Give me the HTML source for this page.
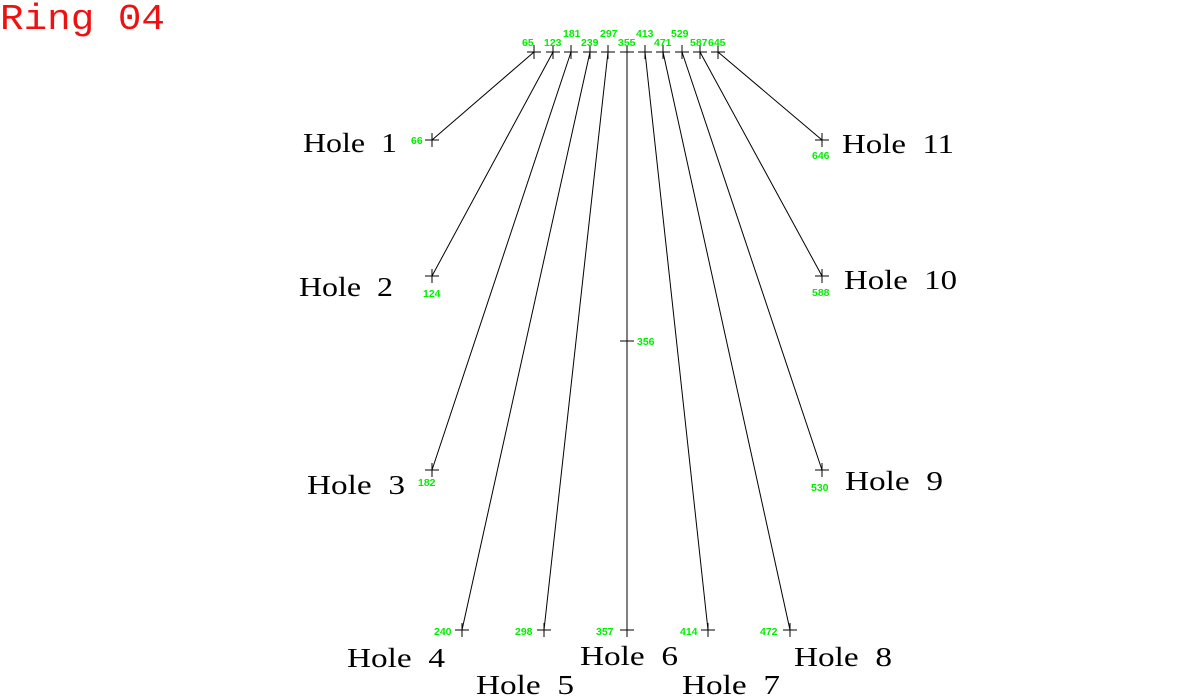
<!DOCTYPE html>
<html><head><style>
html,body{margin:0;padding:0;background:#fff;width:1197px;height:700px;overflow:hidden}
svg{display:block}
.h{font-family:"Liberation Serif",serif;font-size:27px;fill:#000}
.g{font-family:"Liberation Sans",sans-serif;font-size:10.5px;font-weight:bold;fill:#00ee00}
</style></head><body>
<svg width="1197" height="700" viewBox="0 0 1197 700">
<text x="0" y="29" font-family="Liberation Mono, monospace" font-size="36" fill="#ee1111" textLength="165" lengthAdjust="spacingAndGlyphs">Ring 04</text>
<g stroke="#000" stroke-width="1" fill="none">
<line x1="534" y1="52" x2="432" y2="140"/>
<line x1="553" y1="52" x2="432" y2="276"/>
<line x1="571" y1="52" x2="432" y2="470"/>
<line x1="590" y1="52" x2="462" y2="630"/>
<line x1="608" y1="52" x2="544" y2="630"/>
<line x1="627" y1="52" x2="627" y2="630"/>
<line x1="645" y1="52" x2="708" y2="630"/>
<line x1="663" y1="52" x2="790" y2="630"/>
<line x1="682" y1="52" x2="822" y2="470"/>
<line x1="700" y1="52" x2="822" y2="276"/>
<line x1="718" y1="52" x2="822" y2="140"/>
<path d="M527 52h14M534 45v14 M546 52h14M553 45v14 M564 52h14M571 45v14 M583 52h14M590 45v14 M601 52h14M608 45v14 M620 52h14M627 45v14 M638 52h14M645 45v14 M656 52h14M663 45v14 M675 52h14M682 45v14 M693 52h14M700 45v14 M711 52h14M718 45v14"/>
<path d="M425 140h14M432 133v14 M425 276h14M432 269v14 M425 470h14M432 463v14 M455 630h14M462 623v14 M537 630h14M544 623v14 M620 630h14M627 623v14 M701 630h14M708 623v14 M783 630h14M790 623v14 M815 470h14M822 463v14 M815 276h14M822 269v14 M815 140h14M822 133v14 M620 341h14M627 334v14"/>
</g>
<g class="g">
<text x="522" y="46">65</text><text x="544" y="46">123</text><text x="563" y="37">181</text><text x="581" y="46">239</text>
<text x="600" y="37">297</text><text x="618" y="46">355</text><text x="636" y="37">413</text><text x="654" y="46">471</text>
<text x="671" y="37">529</text><text x="690" y="46">587</text><text x="708" y="46">645</text>
<text x="411" y="144">66</text><text x="423" y="297">124</text><text x="418" y="486">182</text>
<text x="434" y="635">240</text><text x="515" y="635">298</text><text x="596" y="635">357</text>
<text x="680" y="635">414</text><text x="760" y="635">472</text><text x="811" y="491">530</text>
<text x="812" y="296">588</text><text x="812" y="159">646</text><text x="637" y="345">356</text>
</g>
<g class="h">
<text x="303" y="152" textLength="94" lengthAdjust="spacingAndGlyphs" xml:space="preserve">Hole  1</text>
<text x="299" y="296" textLength="94" lengthAdjust="spacingAndGlyphs" xml:space="preserve">Hole  2</text>
<text x="307" y="494" textLength="98" lengthAdjust="spacingAndGlyphs" xml:space="preserve">Hole  3</text>
<text x="347" y="667" textLength="98" lengthAdjust="spacingAndGlyphs" xml:space="preserve">Hole  4</text>
<text x="476" y="694" textLength="98" lengthAdjust="spacingAndGlyphs" xml:space="preserve">Hole  5</text>
<text x="580" y="665" textLength="98" lengthAdjust="spacingAndGlyphs" xml:space="preserve">Hole  6</text>
<text x="682" y="694" textLength="98" lengthAdjust="spacingAndGlyphs" xml:space="preserve">Hole  7</text>
<text x="794" y="666" textLength="98" lengthAdjust="spacingAndGlyphs" xml:space="preserve">Hole  8</text>
<text x="845" y="490" textLength="98" lengthAdjust="spacingAndGlyphs" xml:space="preserve">Hole  9</text>
<text x="844" y="289" textLength="113" lengthAdjust="spacingAndGlyphs" xml:space="preserve">Hole  10</text>
<text x="842" y="153" textLength="112" lengthAdjust="spacingAndGlyphs" xml:space="preserve">Hole  11</text>
</g>
</svg>
</body></html>
